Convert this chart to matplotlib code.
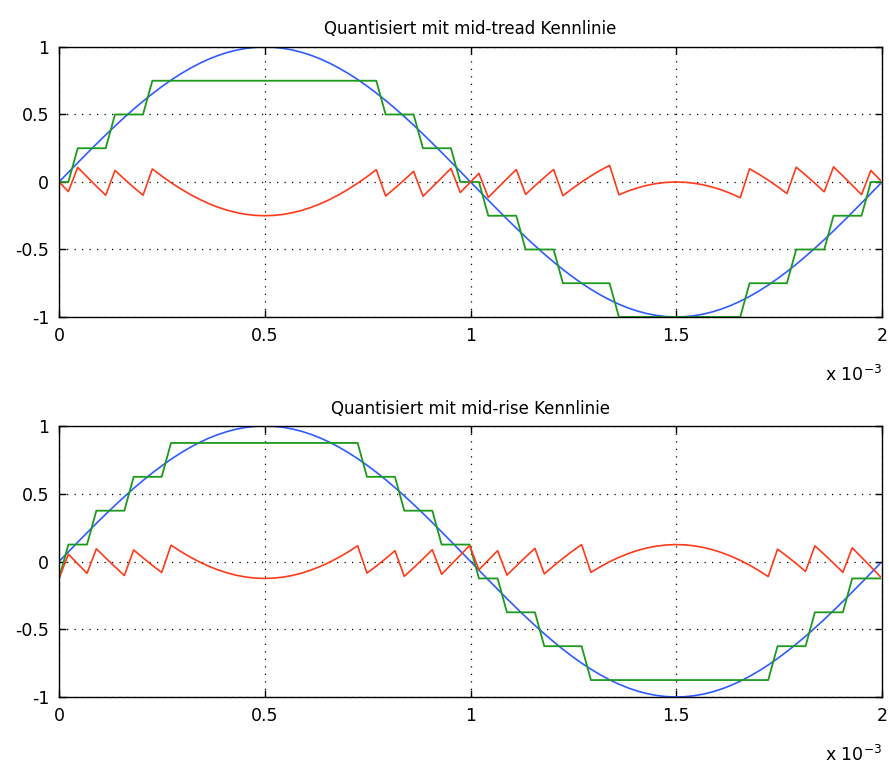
"""
Sine (500 Hz, fs = 44.1 kHz) quantised with a 3-bit mid-tread and mid-rise
characteristic, plus the quantisation error. MATLAB-style look.
"""
import matplotlib
matplotlib.use("Agg")
import matplotlib.pyplot as plt
import numpy as np
from matplotlib.ticker import FuncFormatter

FS = 44100  # sample rate of the plotted signal

# sampled sine, one value per sample (n = 0 .. 88)
signal = [
    0.0000, 0.0712, 0.1420, 0.2121, 0.2811, 0.3487, 0.4145, 0.4783, 0.5396, 0.5981,
    0.6536, 0.7058, 0.7545, 0.7992, 0.8400, 0.8765, 0.9086, 0.9360, 0.9587, 0.9765,
    0.9894, 0.9972, 1.0000, 0.9977, 0.9904, 0.9780, 0.9607, 0.9385, 0.9115, 0.8799,
    0.8439, 0.8035, 0.7591, 0.7109, 0.6590, 0.6038, 0.5455, 0.4845, 0.4210, 0.3554,
    0.2879, 0.2191, 0.1490, 0.0783, 0.0071, -0.0641, -0.1349, -0.2051, -0.2743, -0.3420,
    -0.4080, -0.4720, -0.5335, -0.5924, -0.6482, -0.7008, -0.7498, -0.7950, -0.8361, -0.8731,
    -0.9056, -0.9335, -0.9566, -0.9749, -0.9883, -0.9966, -0.9999, -0.9982, -0.9913, -0.9795,
    -0.9626, -0.9409, -0.9144, -0.8833, -0.8477, -0.8078, -0.7637, -0.7159, -0.6644, -0.6095,
    -0.5515, -0.4907, -0.4275, -0.3620, -0.2948, -0.2260, -0.1561, -0.0854, -0.0143,
]

quant_tread = [
    0.0, 0.0, 0.25, 0.25, 0.25, 0.25, 0.5, 0.5, 0.5, 0.5,
    0.75, 0.75, 0.75, 0.75, 0.75, 0.75, 0.75, 0.75, 0.75, 0.75,
    0.75, 0.75, 0.75, 0.75, 0.75, 0.75, 0.75, 0.75, 0.75, 0.75,
    0.75, 0.75, 0.75, 0.75, 0.75, 0.5, 0.5, 0.5, 0.5, 0.25,
    0.25, 0.25, 0.25, 0.0, 0.0, 0.0, -0.25, -0.25, -0.25, -0.25,
    -0.5, -0.5, -0.5, -0.5, -0.75, -0.75, -0.75, -0.75, -0.75, -0.75,
    -1.0, -1.0, -1.0, -1.0, -1.0, -1.0, -1.0, -1.0, -1.0, -1.0,
    -1.0, -1.0, -1.0, -1.0, -0.75, -0.75, -0.75, -0.75, -0.75, -0.5,
    -0.5, -0.5, -0.5, -0.25, -0.25, -0.25, -0.25, 0.0, 0.0,
]

error_tread = [
    0.0000, -0.0712, 0.1080, 0.0379, -0.0311, -0.0987, 0.0855, 0.0217, -0.0396, -0.0981,
    0.0964, 0.0442, -0.0045, -0.0492, -0.0900, -0.1265, -0.1586, -0.1860, -0.2087, -0.2265,
    -0.2394, -0.2472, -0.2500, -0.2477, -0.2404, -0.2280, -0.2107, -0.1885, -0.1615, -0.1299,
    -0.0939, -0.0535, -0.0091, 0.0391, 0.0910, -0.1038, -0.0455, 0.0155, 0.0790, -0.1054,
    -0.0379, 0.0309, 0.1010, -0.0783, -0.0071, 0.0641, -0.1151, -0.0449, 0.0243, 0.0920,
    -0.0920, -0.0280, 0.0335, 0.0924, -0.1018, -0.0492, -0.0002, 0.0450, 0.0861, 0.1231,
    -0.0944, -0.0665, -0.0434, -0.0251, -0.0117, -0.0034, -0.0001, -0.0018, -0.0087, -0.0205,
    -0.0374, -0.0591, -0.0856, -0.1167, 0.0977, 0.0578, 0.0137, -0.0341, -0.0856, 0.1095,
    0.0515, -0.0093, -0.0725, 0.1120, 0.0448, -0.0240, -0.0939, 0.0854, 0.0143,
]

quant_rise = [
    -0.125, 0.125, 0.125, 0.125, 0.375, 0.375, 0.375, 0.375, 0.625, 0.625,
    0.625, 0.625, 0.875, 0.875, 0.875, 0.875, 0.875, 0.875, 0.875, 0.875,
    0.875, 0.875, 0.875, 0.875, 0.875, 0.875, 0.875, 0.875, 0.875, 0.875,
    0.875, 0.875, 0.875, 0.625, 0.625, 0.625, 0.625, 0.375, 0.375, 0.375,
    0.375, 0.125, 0.125, 0.125, 0.125, -0.125, -0.125, -0.125, -0.375, -0.375,
    -0.375, -0.375, -0.625, -0.625, -0.625, -0.625, -0.625, -0.875, -0.875, -0.875,
    -0.875, -0.875, -0.875, -0.875, -0.875, -0.875, -0.875, -0.875, -0.875, -0.875,
    -0.875, -0.875, -0.875, -0.875, -0.875, -0.875, -0.875, -0.625, -0.625, -0.625,
    -0.625, -0.375, -0.375, -0.375, -0.375, -0.125, -0.125, -0.125, -0.125,
]

error_rise = [
    -0.1250, 0.0538, -0.0170, -0.0871, 0.0939, 0.0263, -0.0395, -0.1033, 0.0854, 0.0269,
    -0.0286, -0.0808, 0.1205, 0.0758, 0.0350, -0.0015, -0.0336, -0.0610, -0.0837, -0.1015,
    -0.1144, -0.1222, -0.1250, -0.1227, -0.1154, -0.1030, -0.0857, -0.0635, -0.0365, -0.0049,
    0.0311, 0.0715, 0.1159, -0.0859, -0.0340, 0.0212, 0.0795, -0.1095, -0.0460, 0.0196,
    0.0871, -0.0941, -0.0240, 0.0467, 0.1179, -0.0609, 0.0099, 0.0801, -0.1007, -0.0330,
    0.0330, 0.0970, -0.0915, -0.0326, 0.0232, 0.0758, 0.1248, -0.0800, -0.0389, -0.0019,
    0.0306, 0.0585, 0.0816, 0.0999, 0.1133, 0.1216, 0.1249, 0.1232, 0.1163, 0.1045,
    0.0876, 0.0659, 0.0394, 0.0083, -0.0273, -0.0672, -0.1113, 0.0909, 0.0394, -0.0155,
    -0.0735, 0.1157, 0.0525, -0.0130, -0.0802, 0.1010, 0.0311, -0.0396, -0.1107,
]

titles = ["Quantisiert mit mid-tread Kennlinie", "Quantisiert mit mid-rise Kennlinie"]
x_ticks = [0, 0.5e-3, 1e-3, 1.5e-3, 2e-3]
y_ticks = [-1, -0.5, 0, 0.5, 1]

BLUE = "#2f5cff"
GREEN = "#1c9a1c"
RED = "#ff3a1a"


def style_axes(ax, title):
    ax.set_xlim(0, 2e-3)
    ax.set_ylim(-1, 1)
    ax.set_xticks(x_ticks)
    ax.set_yticks(y_ticks)
    ax.xaxis.set_major_formatter(FuncFormatter(lambda v, _: f"{v * 1e3:g}"))
    ax.yaxis.set_major_formatter(FuncFormatter(lambda v, _: f"{v:g}"))
    ax.tick_params(direction="in", length=5, width=1, top=True, right=True,
                   labelsize=12.5, pad=7)
    ax.grid(True, color="black", linestyle=(0, (1, 5)), linewidth=0.9)
    for sp in ax.spines.values():
        sp.set_linewidth(1.0)
    ax.set_title(title, fontsize=12, pad=9)
    ax.text(1.0, -0.215, r"x 10$^{-3}$", transform=ax.transAxes,
            ha="right", va="center", fontsize=12.5)


def draw_panel(ax, t, quant, err, title):
    ax.plot(t, signal, color=BLUE, lw=1.2)
    ax.plot(t, quant, color=GREEN, lw=1.3)
    ax.plot(t, err, color=RED, lw=1.2)
    style_axes(ax, title)


def main():
    t = np.arange(len(signal)) / FS

    fig = plt.figure(figsize=(8.89, 7.64), dpi=100)
    ax_top = fig.add_axes([0.0664, 0.5851, 0.9258, 0.3534])
    ax_bot = fig.add_axes([0.0664, 0.0877, 0.9258, 0.3547])

    draw_panel(ax_top, t, quant_tread, error_tread, titles[0])
    draw_panel(ax_bot, t, quant_rise, error_rise, titles[1])

    fig.savefig("out.png", dpi=100)
    plt.close(fig)


if __name__ == "__main__":
    main()
